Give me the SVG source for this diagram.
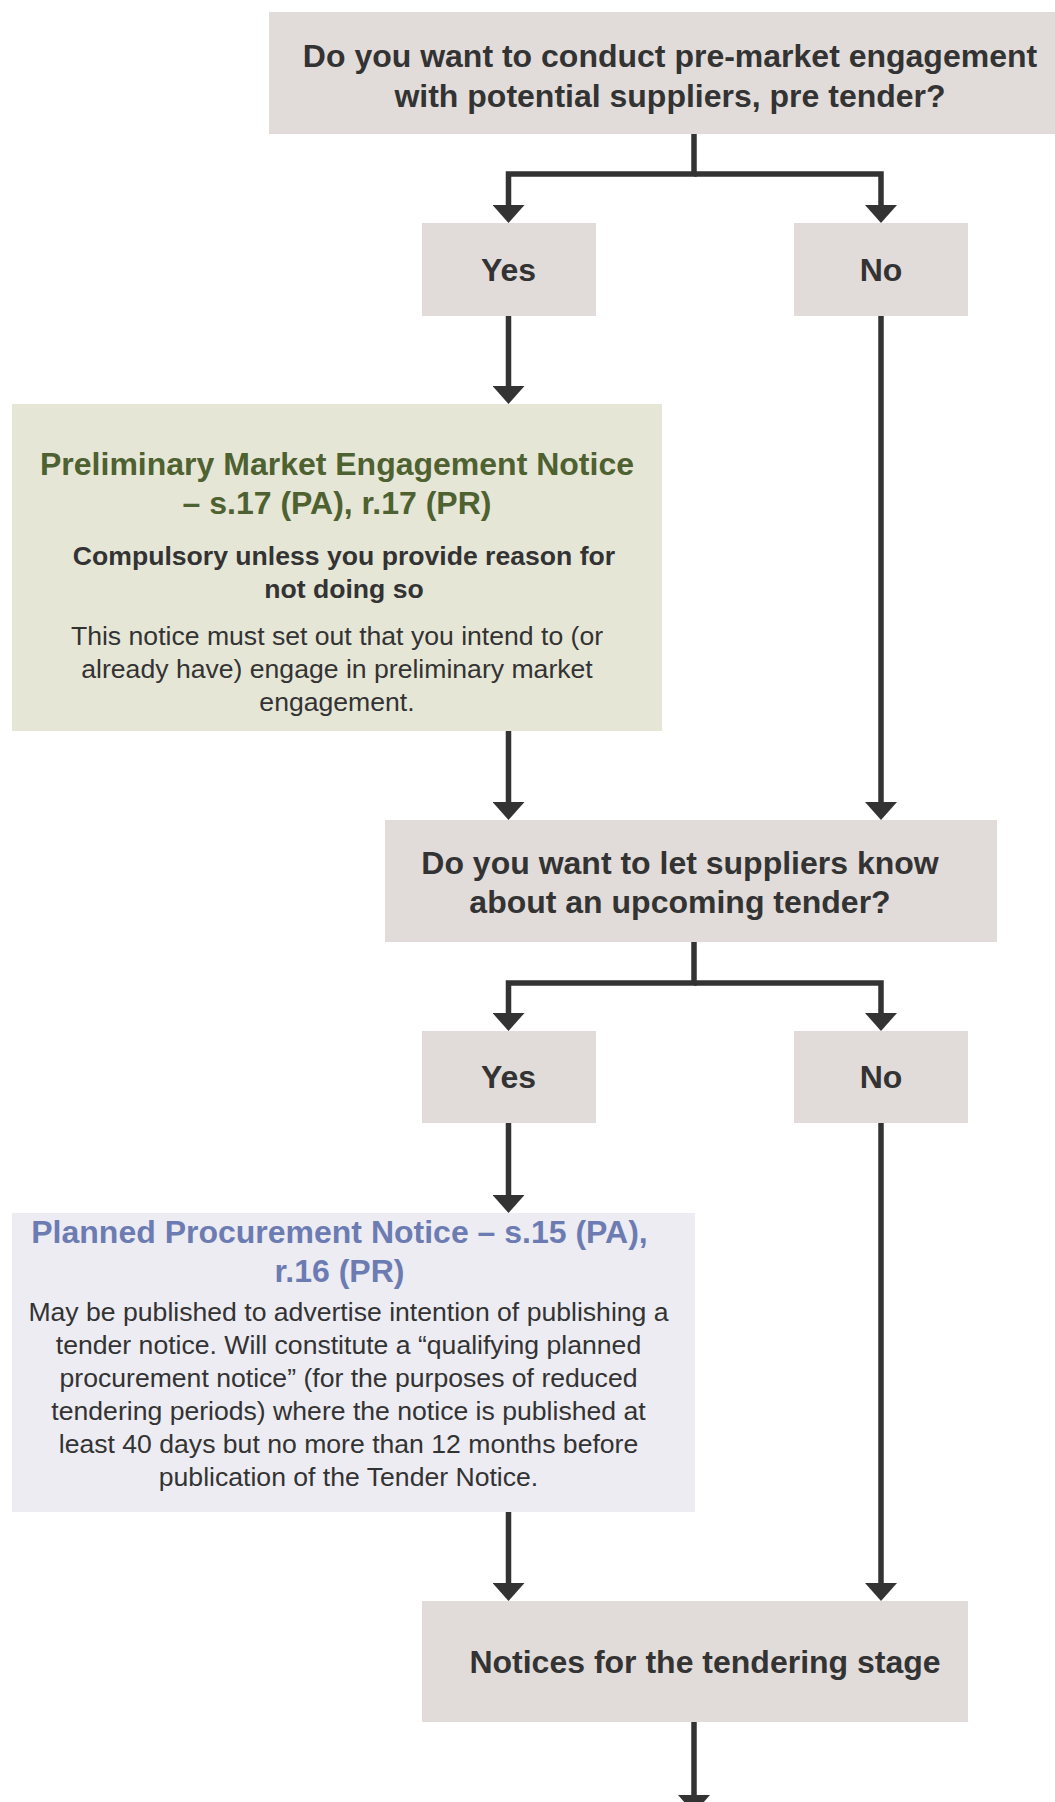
<svg xmlns="http://www.w3.org/2000/svg" width="1055" height="1802" viewBox="0 0 1055 1802">
<style>
  .box { fill: #e1dcd9; }
  .pmen { fill: #e6e6d7; }
  .ppn { fill: #ececf2; }
  .t { font-family: "Liberation Sans", Arial, sans-serif; fill: #333333; text-anchor: middle; }
  .b32 { font-size: 32px; font-weight: bold; }
  .b26 { font-size: 26.6px; font-weight: bold; }
  .r26 { font-size: 26.6px; }
  .green { fill: #4e6130; }
  .blue { fill: #6c7cb2; }
  .conn { fill: none; stroke: #333333; stroke-width: 5.5; stroke-linejoin: miter; }
</style>
<defs>
  <marker id="arr" viewBox="0 -16 18 32" markerWidth="18" markerHeight="32" refX="0" refY="0" orient="auto" markerUnits="userSpaceOnUse">
    <path d="M0,-16 L18,0 L0,16 Z" fill="#333333"/>
  </marker>
</defs>
<rect width="1055" height="1802" fill="#ffffff"/>

<g id="connectors">
  <path class="conn" d="M694,134 V174 H508.5 V205" marker-end="url(#arr)"/>
  <path class="conn" d="M694,174 H881 V205" marker-end="url(#arr)"/>
  <path class="conn" d="M508.5,316 V386" marker-end="url(#arr)"/>
  <path class="conn" d="M881,316 V802" marker-end="url(#arr)"/>
  <path class="conn" d="M508.5,731 V802" marker-end="url(#arr)"/>
  <path class="conn" d="M694,942 V983 H508.5 V1013" marker-end="url(#arr)"/>
  <path class="conn" d="M694,983 H881 V1013" marker-end="url(#arr)"/>
  <path class="conn" d="M508.5,1123 V1195" marker-end="url(#arr)"/>
  <path class="conn" d="M881,1123 V1583" marker-end="url(#arr)"/>
  <path class="conn" d="M508.5,1512 V1583" marker-end="url(#arr)"/>
  <path class="conn" d="M694,1722 V1795" marker-end="url(#arr)"/>
</g>

<g id="q1">
  <rect class="box" x="269" y="12" width="786" height="122"/>
  <text class="t b32" x="670" y="67">Do you want to conduct pre-market engagement</text>
  <text class="t b32" x="670" y="107">with potential suppliers, pre tender?</text>
</g>

<g id="yes1">
  <rect class="box" x="422" y="223" width="174" height="93"/>
  <text class="t b32" x="508.5" y="281">Yes</text>
</g>

<g id="no1">
  <rect class="box" x="794" y="223" width="174" height="93"/>
  <text class="t b32" x="881" y="281">No</text>
</g>

<g id="pmen">
  <rect class="pmen" x="12" y="404" width="650" height="327"/>
  <text class="t b32 green" x="337" y="475">Preliminary Market Engagement Notice</text>
  <text class="t b32 green" x="337" y="514">– s.17 (PA), r.17 (PR)</text>
  <text class="t b26" x="344" y="565">Compulsory unless you provide reason for</text>
  <text class="t b26" x="344" y="598">not doing so</text>
  <text class="t r26" x="337" y="645">This notice must set out that you intend to (or</text>
  <text class="t r26" x="337" y="678">already have) engage in preliminary market</text>
  <text class="t r26" x="337" y="711">engagement.</text>
</g>

<g id="q2">
  <rect class="box" x="385" y="820" width="612" height="122"/>
  <text class="t b32" x="680" y="874">Do you want to let suppliers know</text>
  <text class="t b32" x="680" y="913">about an upcoming tender?</text>
</g>

<g id="yes2">
  <rect class="box" x="422" y="1031" width="174" height="92"/>
  <text class="t b32" x="508.5" y="1088">Yes</text>
</g>

<g id="no2">
  <rect class="box" x="794" y="1031" width="174" height="92"/>
  <text class="t b32" x="881" y="1088">No</text>
</g>

<g id="ppn">
  <rect class="ppn" x="12" y="1213" width="683" height="299"/>
  <text class="t b32 blue" x="339.5" y="1243">Planned Procurement Notice – s.15 (PA),</text>
  <text class="t b32 blue" x="339.5" y="1282">r.16 (PR)</text>
  <text class="t r26" x="348.5" y="1321">May be published to advertise intention of publishing a</text>
  <text class="t r26" x="348.5" y="1354">tender notice. Will constitute a “qualifying planned</text>
  <text class="t r26" x="348.5" y="1387">procurement notice” (for the purposes of reduced</text>
  <text class="t r26" x="348.5" y="1420">tendering periods) where the notice is published at</text>
  <text class="t r26" x="348.5" y="1453">least 40 days but no more than 12 months before</text>
  <text class="t r26" x="348.5" y="1486">publication of the Tender Notice.</text>
</g>

<g id="final">
  <rect class="box" x="422" y="1601" width="546" height="121"/>
  <text class="t b32" x="705" y="1673">Notices for the tendering stage</text>
</g>
</svg>
